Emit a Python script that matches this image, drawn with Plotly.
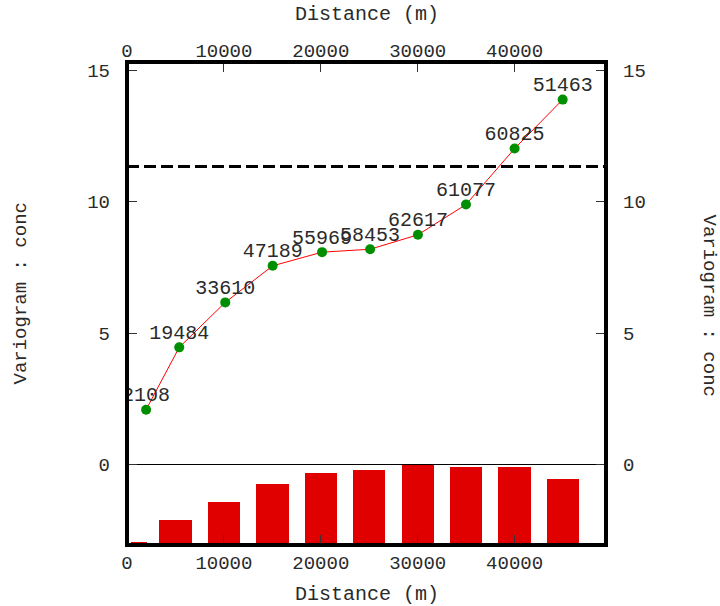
import plotly.graph_objects as go

# ---- data ----
lag_dist = [1970, 5390, 10140, 15030, 20130, 25090, 30020, 34980, 40000, 44960]
gamma = [2.09, 4.46, 6.17, 7.56, 8.08, 8.19, 8.74, 9.89, 12.02, 13.88]
npairs = [2108, 19484, 33610, 47189, 55969, 58453, 62617, 61077, 60825, 51463]
bin_center = [1250, 5000, 10000, 15000, 20000, 25000, 30000, 35000, 40000, 45000]
bin_width = [1667, 3333, 3333, 3333, 3333, 3333, 3333, 3333, 3333, 3333]
sill = 11.34
x_ticks = [0, 10000, 20000, 30000, 40000]
y_ticks = [0, 5, 10, 15]
x_range = [0, 49430]
y_range = [-3.055, 15.31]

mono = "Liberation Mono, Courier New, monospace"
txtcol = "#2a2a2a"
tickfont = dict(family=mono, size=19, color=txtcol)

maxc = max(npairs)
bar_top = maxc * (y_range[1] - y_range[0]) / (0 - y_range[0])

fig = go.Figure()

fig.add_trace(go.Bar(
    x=bin_center, y=npairs, width=bin_width,
    marker=dict(color="#e00000", line=dict(width=0)),
    yaxis="y3", xaxis="x", showlegend=False, hoverinfo="skip"))

fig.add_trace(go.Scatter(
    x=lag_dist, y=gamma, mode="lines+markers",
    line=dict(color="#ff0000", width=1),
    marker=dict(color="#008f00", size=10),
    showlegend=False, cliponaxis=True))

fig.add_trace(go.Scatter(
    x=lag_dist, y=gamma, mode="markers+text",
    text=[str(n) for n in npairs], textposition="top center",
    textfont=dict(family=mono, size=20, color=txtcol),
    marker=dict(size=4, opacity=0),
    showlegend=False, cliponaxis=True))

fig.add_trace(go.Scatter(
    x=x_range, y=[sill, sill], mode="lines",
    line=dict(color="black", width=3, dash="12px,5px"),
    showlegend=False, hoverinfo="skip"))

common_x = dict(range=x_range, tickvals=x_ticks, ticktext=[str(v) for v in x_ticks],
                ticks="inside", ticklen=10,
                tickwidth=1, tickcolor="#333", showgrid=False, zeroline=False,
                showline=False, tickfont=tickfont)
common_y = dict(range=y_range, tickvals=y_ticks, ticktext=[str(v) for v in y_ticks],
                ticks="inside", ticklen=10,
                tickwidth=1, tickcolor="#333", showgrid=False,
                showline=False, tickfont=tickfont, ticklabelstandoff=16)

fig.update_layout(
    width=720, height=606,
    margin=dict(l=127, r=114, t=62, b=61),
    plot_bgcolor="white", paper_bgcolor="white",
    bargap=0,
    xaxis=dict(**common_x, side="bottom", ticklabelstandoff=4),
    xaxis2=dict(**common_x, side="top", overlaying="x", ticklabelstandoff=0),
    yaxis=dict(**common_y, side="left", zeroline=True, zerolinecolor="black",
               zerolinewidth=1),
    yaxis2=dict(**common_y, side="right", overlaying="y", zeroline=False),
    yaxis3=dict(range=[0, bar_top], overlaying="y", visible=False),
    shapes=[dict(type="rect", xref="paper", yref="paper", x0=0, x1=1, y0=0, y1=1,
                 line=dict(color="black", width=4), layer="above")],
    annotations=[
        dict(text="Distance (m)", xref="paper", yref="paper", x=0.5, y=1,
             xanchor="center", yanchor="middle",
             yshift=48, showarrow=False, font=dict(family=mono, size=20, color=txtcol)),
        dict(text="Distance (m)", xref="paper", yref="paper", x=0.5, y=0,
             xanchor="center", yanchor="middle",
             yshift=-49, showarrow=False, font=dict(family=mono, size=20, color=txtcol)),
        dict(text="Variogram : conc", xref="paper", yref="paper", x=0, y=0.5,
             xanchor="center", yanchor="middle",
             xshift=-107, yshift=10, textangle=-90, showarrow=False,
             font=dict(family=mono, size=19, color=txtcol)),
        dict(text="Variogram : conc", xref="paper", yref="paper", x=1, y=0.5,
             xanchor="center", yanchor="middle",
             xshift=103, yshift=-2, textangle=90, showarrow=False,
             font=dict(family=mono, size=19, color=txtcol)),
    ],
)

# dummy trace to activate top and right axes
fig.add_trace(go.Scatter(x=[None], y=[None], xaxis="x2", yaxis="y2", showlegend=False))

fig.write_html("out.html")
